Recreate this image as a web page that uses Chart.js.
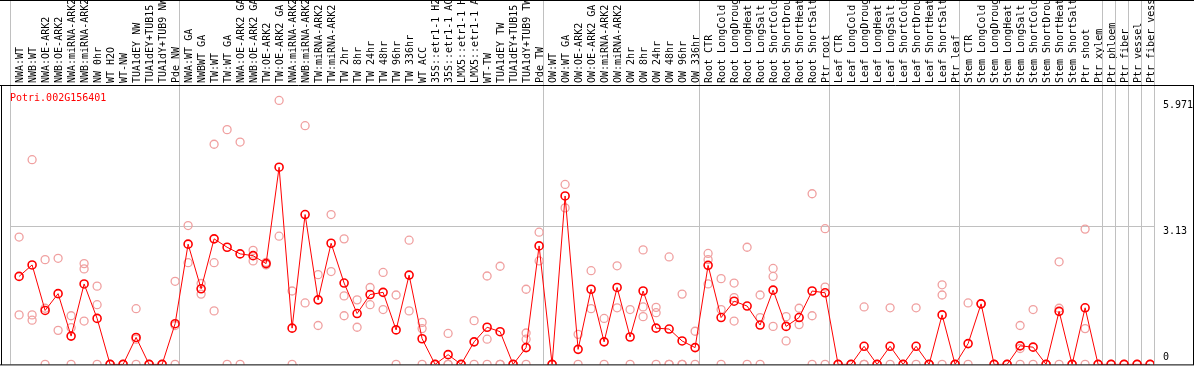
<!DOCTYPE html>
<html>
<head>
<meta charset="utf-8">
<script src="https://cdn.jsdelivr.net/npm/chart.js@4.4.1/dist/chart.umd.min.js"></script>
<style>
html, body { margin: 0; padding: 0; background: #fff; }
#wrap { width: 1194px; height: 370px; }
</style>
</head>
<body>
<div id="wrap"><canvas id="chart" width="1194" height="370"></canvas></div>
<script>
const geneId = 'Potri.002G156401';

const labels = [
  'NWA:WT', 'NWB:WT', 'NWA:OE-ARK2', 'NWB:OE-ARK2', 'NWA:miRNA-ARK2', 'NWB:miRNA-ARK2',
  'NW 0hr', 'WT H2O', 'WT-NW', 'TUA1dEY NW', 'TUA1dEY+TUB15', 'TUA1dY+TUB9 NW', 'Pde NW',
  'NWA:WT GA', 'NWBWT GA', 'TW:WT', 'TW:WT GA', 'NWA:OE-ARK2 GA', 'NWB:OE-ARK2 GA',
  'TW:OE-ARK2', 'TW:OE-ARK2 GA', 'NWA:miRNA-ARK2', 'NWB:miRNA-ARK2', 'TW:miRNA-ARK2',
  'TW:miRNA-ARK2', 'TW 2hr', 'TW 8hr', 'TW 24hr', 'TW 48hr', 'TW 96hr', 'TW 336hr', 'WT ACC',
  '35S::etr1-1 H2O', '35S::etr1-1 ACC', 'LMX5::etr1-1 H2O', 'LMX5::etr1-1 ACC', 'WT-TW',
  'TUA1dEY TW', 'TUA1dEY+TUB15', 'TUA1dY+TUB9 TW', 'Pde TW',
  'OW:WT', 'OW:WT GA', 'OW:OE-ARK2', 'OW:OE-ARK2 GA', 'OW:miRNA-ARK2', 'OW:miRNA-ARK2',
  'OW 2hr', 'OW 8hr', 'OW 24hr', 'OW 48hr', 'OW 96hr', 'OW 336hr',
  'Root CTR', 'Root LongCold', 'Root LongDrought', 'Root LongHeat', 'Root LongSalt',
  'Root ShortCold', 'Root ShortDrought', 'Root ShortHeat', 'Root ShortSalt', 'Ptr root',
  'Leaf CTR', 'Leaf LongCold', 'Leaf LongDrought', 'Leaf LongHeat', 'Leaf LongSalt',
  'Leaf ShortCold', 'Leaf ShortDrought', 'Leaf ShortHeat', 'Leaf ShortSalt', 'Ptr leaf',
  'Stem CTR', 'Stem LongCold', 'Stem LongDrought', 'Stem LongHeat', 'Stem LongSalt',
  'Stem ShortCold', 'Stem ShortDrought', 'Stem ShortHeat', 'Stem ShortSalt', 'Ptr shoot',
  'Ptr xylem', 'Ptr phloem', 'Ptr fiber', 'Ptr vessel', 'Ptr fiber vessel'
];

// mean expression (the red line)
const means = [
  1.99, 2.25, 1.22, 1.60, 0.64, 1.82, 1.04, 0, 0, 0.61, 0, 0, 0.92,
  2.72, 1.71, 2.84, 2.65, 2.50, 2.46, 2.28, 4.46, 0.82, 3.39, 1.46, 2.74, 1.84, 1.15,
  1.58, 1.63, 0.78, 2.02, 0.58, 0, 0.22, 0, 0.51, 0.84, 0.74, 0, 0.38, 2.68,
  0, 3.81, 0.34, 1.70, 0.51, 1.74, 0.62, 1.66, 0.82, 0.80, 0.53, 0.38,
  2.24, 1.06, 1.43, 1.32, 0.89, 1.68, 0.86, 1.06, 1.66, 1.62,
  0, 0, 0.41, 0, 0.41, 0, 0.41, 0, 1.12, 0,
  0.47, 1.37, 0, 0, 0.42, 0.39, 0, 1.20, 0, 1.28, 0,
  0, 0, 0, 0
];

// individual replicates (pale circles), null = none
const rep1 = [
  2.88, 4.63, 2.37, 2.40, 1.10, 2.28, 1.77, 0, 0, 1.26, 0, 0, 1.88,
  3.14, 1.83, 4.98, 5.31, 5.03, 2.58, 2.31, 5.971, 1.66, 5.40, 2.03, 3.39, 2.84, 1.46,
  1.74, 2.08, 1.57, 2.81, 0.95, 0, 0.70, 0, 0.99, 2.00, 2.22, 0, 1.70, 2.99,
  0, 4.07, 0.68, 2.12, 1.04, 2.23, 1.24, 2.59, 1.29, 2.43, 1.59, 0.75,
  2.51, 1.94, 1.84, 2.65, 1.57, 2.17, 1.08, 1.27, 3.86, 3.07,
  0, 0, 1.30, 0, 1.28, 0, 1.28, 0, 1.80, 0,
  1.39, 1.37, 0, 0, 0.88, 1.24, 0, 2.32, 0, 3.06, 0,
  0, 0, 0, 0
];
const rep2 = [
  1.12, 1.12, 1.27, 0.77, 0.83, 2.16, 1.35, 0, 0, 0.57, 0, 0, 0.88,
  2.30, 1.59, 2.30, 0, 0, 2.34, 2.25, 2.90, 0, 1.39, 0.88, 2.10, 1.55, 0.84,
  1.35, 1.24, 0, 1.21, 0.81, 0, 0, 0, 0, 0.57, 0, 0, 0.71, 2.34,
  0, 3.54, 0, 1.26, 0, 1.28, 0, 1.30, 1.17, 0, 0, 0,
  2.37, 1.24, 1.51, 0, 1.06, 1.99, 0.53, 0.90, 1.10, 1.75,
  0, 0, 0, 0, 0, 0, 0, 0, 1.57, 0,
  0, 1.37, 0, 0, 0.36, 0, 0, 1.27, 0, 0.81, 0,
  0, 0, 0, 0
];
const rep3 = [
  null, 1.00, 0, null, 0, 0.98, 0, null, null, 0, null, null, 0,
  null, null, 1.21, null, null, null, null, null, null, null, null, null, 1.10, null,
  null, null, null, null, 0, null, 0, null, null, 0, 0, null, 0.57, null,
  null, null, null, null, null, null, null, 1.08, 0, 0, 0, null,
  1.82, 0, 0.98, null, 0, 0.86, null, null, 0, 0,
  null, null, 0, null, null, null, null, null, 0, null,
  null, null, null, null, 0, null, null, 0, null, 0, null,
  null, null, null, null
];
const rep4 = labels.map((_, i) => i === 39 ? 0 : null);

// group separators (category index where a new block starts)
const groupStarts = [0, 13, 41, 53, 63, 73, 84, 85, 86, 87, 88];
const yTicks = [0, 3.13, 5.971];
const yMax = 6.32;
const shift = 0.7; // separators sit a bit left of each category point

const toXY = arr => arr.map((v, i) => v === null ? null : { x: i, y: v }).filter(p => p);

const repColor = '#f0a0a0';
const repSet = arr => ({
  data: toXY(arr), showLine: false, order: 1, clip: 0,
  pointRadius: 4, pointBorderWidth: 1.3, pointBorderColor: repColor,
  pointBackgroundColor: 'rgba(0,0,0,0)', pointHoverRadius: 4
});

const frame = {
  id: 'frame',
  beforeDatasetsDraw(chart) {
    const c = chart.ctx, x = chart.scales.x, a = chart.chartArea;
    c.save();
    c.strokeStyle = '#c0c0c0';
    c.lineWidth = 1;
    groupStarts.forEach(k => {
      const px = Math.round(x.getPixelForValue(k - shift)) + 0.5;
      c.beginPath(); c.moveTo(px, 0); c.lineTo(px, a.bottom); c.stroke();
    });
    c.restore();
  },
  afterDraw(chart) {
    const c = chart.ctx, y = chart.scales.y, a = chart.chartArea;
    c.save();
    c.strokeStyle = '#000';
    c.lineWidth = 1;
    c.beginPath();
    c.moveTo(0, 0.5); c.lineTo(1194, 0.5);
    c.moveTo(0, a.top + 0.5); c.lineTo(1194, a.top + 0.5);
    c.moveTo(1.5, a.top); c.lineTo(1.5, a.bottom + 0.5);
    c.moveTo(0, a.bottom + 0.5); c.lineTo(1194, a.bottom + 0.5);
    c.moveTo(1193.5, a.top); c.lineTo(1193.5, a.bottom + 0.5);
    c.stroke();
    c.font = '10px "DejaVu Sans Mono"';
    c.fillStyle = '#ff0000';
    c.textAlign = 'left';
    c.textBaseline = 'middle';
    c.fillText(geneId, 10, 98);
    c.fillStyle = '#000';
    yTicks.forEach(v => {
      const py = y.getPixelForValue(v);
      if (v === 0) { c.textBaseline = 'bottom'; c.fillText('0', 1163, py - 2); }
      else { c.textBaseline = 'top'; c.fillText(String(v), 1163, py); }
    });
    c.restore();
  }
};

new Chart(document.getElementById('chart'), {
  type: 'scatter',
  data: {
    datasets: [
      {
        data: toXY(means), showLine: true, order: 0, clip: 0,
        borderColor: '#ff0000', borderWidth: 1,
        pointRadius: 4, pointBorderWidth: 1.6, pointBorderColor: '#ff0000',
        pointBackgroundColor: 'rgba(0,0,0,0)', pointHoverRadius: 4
      },
      repSet(rep1), repSet(rep2), repSet(rep3), repSet(rep4)
    ]
  },
  options: {
    responsive: false,
    animation: false,
    events: [],
    layout: { padding: { left: 10, right: 0, top: 0, bottom: 1 } },
    plugins: { legend: { display: false }, tooltip: { enabled: false } },
    scales: {
      x: {
        type: 'linear', position: 'top',
        min: -shift, max: labels.length - shift,
        afterBuildTicks: s => { s.ticks = labels.map((_, i) => ({ value: i })); },
        afterFit: s => { s.height = 85; },
        ticks: {
          autoSkip: false, minRotation: 90, maxRotation: 90, padding: 2, labelOffset: 13,
          color: '#000', font: { family: 'DejaVu Sans Mono', size: 10 },
          callback: v => labels[v]
        },
        grid: { display: false, drawTicks: false },
        border: { display: false }
      },
      y: {
        position: 'right', min: 0, max: yMax,
        afterBuildTicks: s => { s.ticks = yTicks.map(v => ({ value: v })); },
        afterFit: s => { s.width = 40; },
        ticks: { display: false },
        grid: {
          drawTicks: false,
          color: c => (c.tick && c.tick.value === 3.13) ? '#c0c0c0' : 'rgba(0,0,0,0)'
        },
        border: { display: false }
      }
    }
  },
  plugins: [frame]
});
</script>
</body>
</html>
